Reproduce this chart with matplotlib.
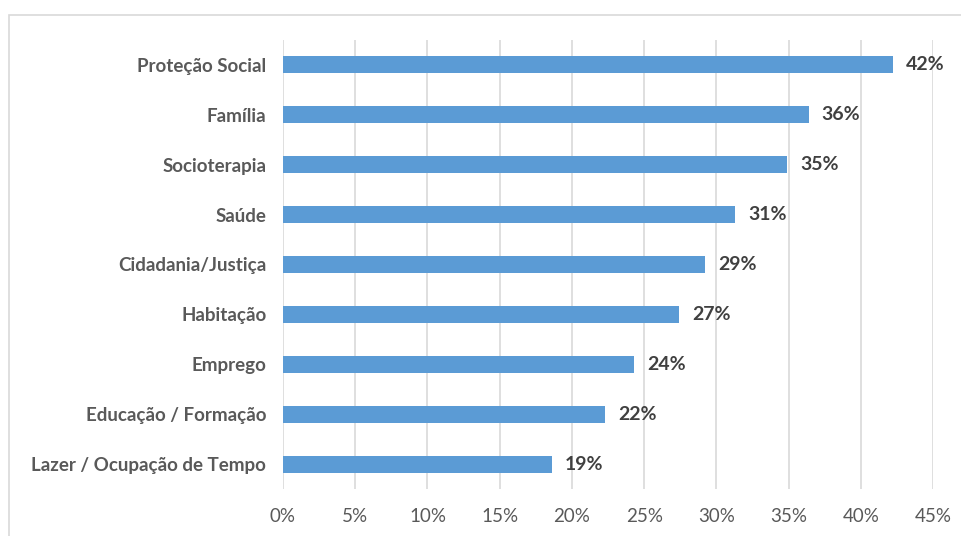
import matplotlib.pyplot as plt
from matplotlib.patches import Rectangle

# áreas de intervenção e percentagem de respostas
categorias = ["Proteção Social", "Família", "Socioterapia", "Saúde",
              "Cidadania/Justiça", "Habitação", "Emprego",
              "Educação / Formação", "Lazer / Ocupação de Tempo"]
valores = [42.2, 36.4, 34.9, 31.3, 29.2, 27.4, 24.3, 22.3, 18.6]
ticks = [0, 5, 10, 15, 20, 25, 30, 35, 40, 45]

plt.rcParams['font.family'] = ['Lato', 'DejaVu Sans']
cinza = "#595959"
azul = "#5B9BD5"

fig = plt.figure(figsize=(9.61, 5.36), dpi=100)
ax = fig.add_axes([283 / 961, 1 - 489 / 536, (933 - 283) / 961, (489 - 40) / 536])

# moldura do gráfico (cortada à direita e em baixo)
fig.patches.append(Rectangle((9 / 961, -0.1), 1.2, 1.1 - 15 / 536,
                             transform=fig.transFigure, fill=False,
                             edgecolor="#D9D9D9", linewidth=1.2))

y = list(range(len(categorias)))
ax.barh(y, valores, height=0.34, color=azul, zorder=3)
for yi, v in zip(y, valores):
    ax.text(v + 0.9, yi, f"{v:.0f}%", va="center", ha="left",
            fontsize=14, fontweight="bold", color="#404040")

ax.set_ylim(len(categorias) - 0.5, -0.5)
ax.set_xlim(0, 45)
ax.set_xticks(ticks)
ax.set_xticklabels([f"{t}%" for t in ticks], fontsize=13.5, color=cinza)
ax.set_yticks(y)
ax.set_yticklabels(categorias, fontsize=13.5, fontweight="bold", color=cinza)
ax.tick_params(axis="both", length=0)
ax.tick_params(axis="x", pad=14)
ax.tick_params(axis="y", pad=12)
ax.grid(axis="x", color="#D9D9D9", linewidth=1.2, zorder=0)
for s in ax.spines.values():
    s.set_visible(False)

fig.savefig("out.png", dpi=100)
